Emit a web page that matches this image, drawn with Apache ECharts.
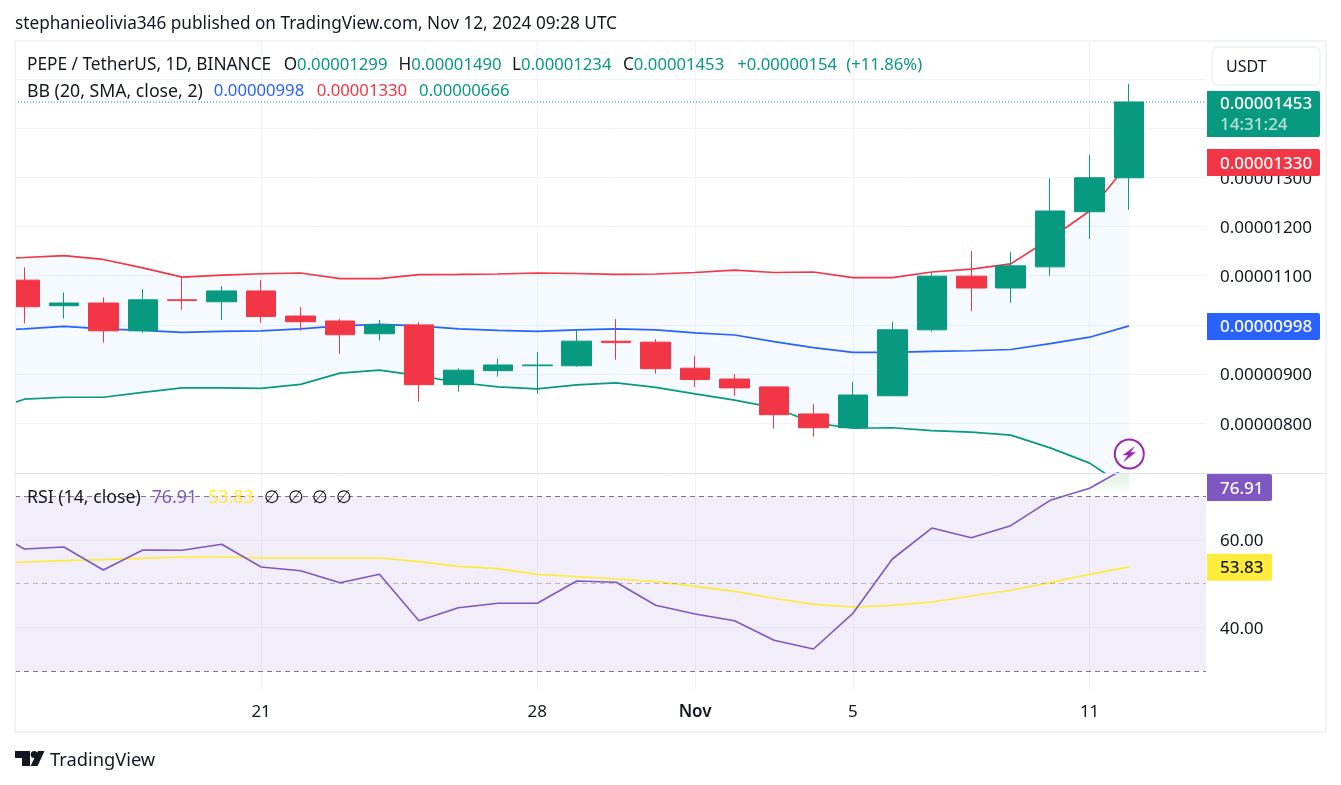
<!DOCTYPE html>
<html>
<head>
<meta charset="utf-8">
<style>html,body{margin:0;padding:0;background:#fff}#c{width:1341px;height:785px}</style>
<script src="https://cdn.jsdelivr.net/npm/echarts@6/dist/echarts.min.js"></script>
</head>
<body>
<div id="c"></div>
<script>
// Day index 0 = Oct 14 2024 ... 29 = Nov 12 2024
const days = [0,1,2,3,4,5,6,7,8,9,10,11,12,13,14,15,16,17,18,19,20,21,22,23,24,25,26,27,28,29];
const tickDays = [7,14,18,22,28];
const tickLabels = ['21','28','Nov','5','11'];

const opens  = [0.00001091,0.00001039,0.000010445,0.00000988,0.00001051,0.00001047,0.00001069,0.00001018,0.00001008,0.00000982,0.00001000,0.000008785,0.00000907,0.00000917,0.00000917,0.00000967,0.00000965,0.00000912,0.00000890,0.00000874,0.00000819,0.00000791,0.00000856,0.00000990,0.00001099,0.00001075,0.00001118,0.00001230,0.00001299];
const closes = [0.00001037,0.000010445,0.00000988,0.00001051,0.000010495,0.00001069,0.00001017,0.000010065,0.00000980,0.00001000,0.000008785,0.00000908,0.000009185,0.000009185,0.00000967,0.00000964,0.00000911,0.00000889,0.00000872,0.000008175,0.00000791,0.000008575,0.00000990,0.00001099,0.00001075,0.00001120,0.000012315,0.00001299,0.00001453];
const lows   = [0.00001003,0.00001013,0.00000964,0.00000984,0.00001031,0.00001010,0.00001004,0.00000988,0.00000941,0.00000968,0.00000844,0.00000864,0.00000895,0.00000860,0.00000915,0.00000929,0.00000901,0.00000874,0.00000856,0.00000789,0.00000773,0.00000791,0.00000855,0.00000986,0.00001028,0.00001045,0.00001100,0.00001175,0.00001234];
const highs  = [0.00001117,0.00001066,0.00001056,0.00001073,0.00001098,0.00001079,0.00001091,0.00001036,0.00001012,0.00001010,0.00001006,0.00000912,0.00000931,0.00000945,0.00000991,0.00001012,0.00000971,0.00000937,0.00000900,0.00000874,0.00000839,0.00000884,0.00001006,0.00001107,0.00001150,0.00001148,0.00001298,0.00001345,0.00001490];

const bbUpper = [0.00001134,0.00001137,0.00001141,0.00001133,0.00001116,0.00001097,0.00001101,0.00001104,0.000011055,0.00001094,0.00001094,0.00001102,0.000011025,0.000011035,0.000011055,0.000011045,0.000011025,0.000011035,0.000011065,0.000011115,0.000011065,0.000011075,0.00001096,0.00001096,0.000011075,0.000011135,0.00001124,0.00001175,0.000012315,0.00001330];
const bbBasis = [0.00000988,0.00000992,0.00000997,0.00000992,0.00000989,0.00000985,0.00000987,0.00000988,0.00000992,0.00000998,0.00001001,0.00000998,0.00000992,0.00000989,0.00000987,0.00000990,0.00000992,0.00000990,0.00000984,0.000009795,0.00000966,0.00000954,0.00000944,0.00000944,0.00000946,0.000009475,0.00000950,0.00000962,0.00000975,0.00000998];
const bbLower = [0.00000823,0.00000849,0.00000853,0.00000853,0.00000863,0.00000872,0.00000872,0.00000871,0.00000879,0.00000902,0.00000908,0.00000897,0.00000883,0.00000874,0.00000870,0.00000878,0.00000882,0.00000873,0.00000860,0.00000847,0.00000832,0.00000801,0.00000790,0.00000791,0.00000785,0.00000782,0.00000776,0.00000750,0.00000719,0.00000666];

const rsiValues = [62.95,57.92,58.38,53.11,57.69,57.62,58.99,53.80,52.95,50.21,52.13,41.51,44.49,45.49,45.49,50.59,50.30,45.03,43.04,41.51,37.03,35.03,43.20,55.63,62.72,60.50,63.25,69.06,71.81,76.91];
const rsiMa = [54.71,54.94,55.24,55.47,55.79,56.09,56.09,55.86,55.86,55.86,55.86,55.01,53.96,53.41,52.13,51.58,51.05,50.43,49.38,48.24,46.64,45.26,44.65,45.03,45.79,47.16,48.47,50.21,52.13,53.83];

const priceGridValues = [0.000008,0.000009,0.00001,0.000011,0.000012,0.000013,0.000014,0.000015];
const priceLabelValues = [0.000008,0.000009,0.000011,0.000012,0.000013];
const rsiLabelValues = [40,60];

const lastPrice = 0.00001453;
const bbUpperLast = 0.00001330, bbBasisLast = 0.00000998, rsiLast = 76.91, rsiMaLast = 53.83;

const GREEN='#089981', RED='#f23645', BLUE='#2962ff', PURPLE='#7e57c2', YELLOW='#ffeb3b', INK='#131722';
const FONT='"Noto Sans", sans-serif', FS=17;
const XMIN=0.7617, XMAX=30.95;

const chart = echarts.init(document.getElementById('c'), null, {renderer:'canvas'});
const candleData = opens.map((o,i)=>[days[i+1],o,closes[i],lows[i],highs[i]]);
const pairs = arr => arr.map((v,i)=>[days[i],v]);

function bandItem(params, api){
  const pts=[];
  days.forEach((d,i)=>pts.push(api.coord([d,bbUpper[i]])));
  for(let i=days.length-1;i>=0;i--) pts.push(api.coord([days[i],bbLower[i]]));
  return {type:'polygon',shape:{points:pts},style:{fill:'rgba(33,150,243,0.05)'}};
}
function obItem(params, api){
  const pts=[]; const lvl=70;
  for(let i=1;i<days.length;i++){
    const a=rsiValues[i-1], b=rsiValues[i];
    if(a<lvl && b>=lvl){ const x=days[i-1]+(lvl-a)/(b-a); pts.push(api.coord([x,lvl])); }
    if(b>=lvl) pts.push(api.coord([days[i],b]));
  }
  pts.push(api.coord([days[days.length-1],lvl]));
  const y100=api.coord([0,100])[1], y70=api.coord([0,70])[1];
  return {type:'polygon',shape:{points:pts},style:{fill:new echarts.graphic.LinearGradient(0,y100,0,y70,[{offset:0,color:'rgba(76,175,80,1)'},{offset:1,color:'rgba(76,175,80,0)'}],true)}};
}

const gridLine={show:true,lineStyle:{color:'#f0f3fa',width:1}};
const tickRich={n:{fontFamily:FONT,fontSize:FS,color:INK,padding:[3,0,0,0]}};
chart.setOption({
  animation:false,
  backgroundColor:'#fff',
  grid:[
    {left:15,right:135,top:42,height:431,containLabel:false},
    {left:15,right:135,top:473,height:217,containLabel:false}
  ],
  xAxis:[
    {type:'value',gridIndex:0,min:XMIN,max:XMAX,axisLine:{show:false},axisTick:{show:false,customValues:tickDays},axisLabel:{show:false},splitLine:gridLine},
    {type:'value',gridIndex:1,min:XMIN,max:XMAX,axisLine:{show:false},axisTick:{show:false,customValues:tickDays},
      axisLabel:{show:true,customValues:tickDays,margin:14,fontFamily:FONT,fontSize:FS,color:INK,
        formatter:v=>{const s=tickLabels[tickDays.indexOf(Math.round(v))];return s==='Nov'?'{b|'+s+'}':s;},
        rich:{b:{fontFamily:FONT,fontSize:FS,fontWeight:600,color:INK}}},
      splitLine:gridLine}
  ],
  yAxis:[
    {type:'value',gridIndex:0,position:'right',min:0.00000699,max:0.00001575,axisLine:{show:false},
      axisTick:{show:false,customValues:priceGridValues},
      axisLabel:{show:true,customValues:priceLabelValues,margin:14,fontFamily:FONT,fontSize:FS,color:INK,rich:tickRich,formatter:v=>'{n|'+v.toFixed(8)+'}'},
      splitLine:gridLine},
    {type:'value',gridIndex:1,position:'right',min:25.65,max:75.31,axisLine:{show:false},
      axisTick:{show:false,customValues:rsiLabelValues},
      axisLabel:{show:true,customValues:rsiLabelValues,margin:14,fontFamily:FONT,fontSize:FS,color:INK,rich:tickRich,formatter:v=>'{n|'+v.toFixed(2)+'}'},
      splitLine:gridLine}
  ],
  series:[
    {type:'custom',name:'BB band',xAxisIndex:0,yAxisIndex:0,clip:true,z:1,renderItem:bandItem,data:[[1,0.00001]],silent:true},
    {type:'line',name:'Last price',xAxisIndex:0,yAxisIndex:0,data:[[XMIN,lastPrice],[XMAX,lastPrice]],showSymbol:false,z:2,lineStyle:{color:GREEN,type:[1,2],width:1},silent:true},
    {type:'line',name:'BB upper',xAxisIndex:0,yAxisIndex:0,data:pairs(bbUpper),showSymbol:false,z:2,lineStyle:{color:RED,width:1.7},silent:true},
    {type:'line',name:'BB basis',xAxisIndex:0,yAxisIndex:0,data:pairs(bbBasis),showSymbol:false,z:2,lineStyle:{color:BLUE,width:1.7},silent:true},
    {type:'line',name:'BB lower',xAxisIndex:0,yAxisIndex:0,data:pairs(bbLower),showSymbol:false,z:2,lineStyle:{color:GREEN,width:1.7},silent:true},
    {type:'candlestick',name:'PEPEUSDT',xAxisIndex:0,yAxisIndex:0,data:candleData,barWidth:30,z:3,silent:true,
      itemStyle:{color:GREEN,color0:RED,borderColor:GREEN,borderColor0:RED,borderWidth:1}},
    {type:'custom',name:'RSI overbought',xAxisIndex:1,yAxisIndex:1,clip:true,z:1,renderItem:obItem,data:[[1,50]],silent:true},
    {type:'line',name:'RSI',xAxisIndex:1,yAxisIndex:1,data:pairs(rsiValues),showSymbol:false,z:4,lineStyle:{color:PURPLE,width:1.6},silent:true,
      markArea:{silent:true,itemStyle:{color:'rgba(126,87,194,0.1)'},data:[[{yAxis:70},{yAxis:30}]]},
      markLine:{silent:true,symbol:'none',animation:false,label:{show:false},
        data:[
          {yAxis:70,lineStyle:{color:'#787b86',type:[5,4],width:1}},
          {yAxis:50,lineStyle:{color:'rgba(120,123,134,0.5)',type:[5,4],width:1}},
          {yAxis:30,lineStyle:{color:'#787b86',type:[5,4],width:1}}
        ]}},
    {type:'line',name:'RSI MA',xAxisIndex:1,yAxisIndex:1,data:pairs(rsiMa),showSymbol:false,z:3,lineStyle:{color:YELLOW,width:1.7},silent:true}
  ]
});

const py = v => chart.convertToPixel({yAxisIndex:0},v);
const ry = v => chart.convertToPixel({yAxisIndex:1},v);
const Z=100, NUM=16.7, TXT=17.7;
// segment: [text, colour, right padding, font size]
function rich(x,y,segs){
  const richStyles={}; let txt='';
  segs.forEach((s,i)=>{const k='s'+i; richStyles[k]={fill:s[1],fontFamily:FONT,fontSize:s[3]||TXT,padding:[0,s[2]||0,0,0]}; txt+='{'+k+'|'+s[0]+'}';});
  return {type:'text',z:Z,x:x,y:y,style:{text:txt,rich:richStyles,fontFamily:FONT,fontSize:TXT,verticalAlign:'middle',textVerticalAlign:'middle'}};
}
function tag(y0,h,w,color,text,textColor){
  return [
    {type:'rect',z:Z,shape:{x:1207,y:y0,width:w,height:h,r:[0,2,2,0]},style:{fill:color}},
    {type:'text',z:Z+1,x:1220,y:y0+h/2+1.2,style:{text:text,fill:textColor,fontFamily:FONT,fontSize:FS,fontWeight:500,verticalAlign:'middle',textVerticalAlign:'middle'}}
  ];
}
const c={x:1129.3,y:454};
const boltPts=[[4.8,-7],[-6,1],[-1,1],[-5.5,7.5],[6,-1.5],[1,-1.5]].map(p=>[c.x+p[0],c.y+p[1]]);
const tagRed=py(bbUpperLast), tagBlue=py(bbBasisLast), tagYellow=ry(rsiMaLast);
const el=[
  // frame
  {type:'rect',z:Z-2,shape:{x:0,y:36,width:14,height:700},style:{fill:'#fff'}},
  {type:'rect',z:Z-1,shape:{x:15,y:41,width:1311,height:691},style:{fill:'transparent',stroke:'#f0f3fa',lineWidth:2}},
  {type:'line',z:Z-1,shape:{x1:15,y1:473.5,x2:1326,y2:473.5},style:{stroke:'#e0e3eb',lineWidth:1}},
  // header
  {type:'text',z:Z,x:15,y:23.7,style:{text:'stephanieolivia346 published on TradingView.com, Nov 12, 2024 09:28 UTC',fill:INK,fontFamily:FONT,fontSize:17.2,verticalAlign:'middle',textVerticalAlign:'middle'}},
  rich(27,65.5,[['PEPE / TetherUS, 1D, BINANCE',INK,12.5,17.25],['O',INK,0,17.2],['0.00001299',GREEN,11,NUM],['H',INK,0,17.2],['0.00001490',GREEN,10.5,NUM],['L',INK,0,17.2],['0.00001234',GREEN,11.5,NUM],['C',INK,0,17.2],['0.00001453',GREEN,13,NUM],['+0.00000154',GREEN,9,NUM],['(+11.86%)',GREEN,0,NUM]]),
  rich(27,91.5,[['BB (20, SMA, close, 2)',INK,11],['0.00000998',BLUE,12.5,NUM],['0.00001330',RED,12,NUM],['0.00000666',GREEN,0,NUM]]),
  rich(27,498,[['RSI (14, close)',INK,11],['76.91',PURPLE,11,17.8],['53.83',YELLOW,10,17.8],['∅',INK,8],['∅',INK,8],['∅',INK,8],['∅',INK]]),
  // USDT button
  {type:'rect',z:Z,shape:{x:1212,y:47,width:108,height:38,r:6},style:{fill:'#fff',stroke:'#f0f3fa',lineWidth:2}},
  {type:'text',z:Z+1,x:1226,y:67.5,style:{text:'USDT',fill:INK,fontFamily:FONT,fontSize:16,verticalAlign:'middle',textVerticalAlign:'middle'}},
  // last price tag
  {type:'rect',z:Z,shape:{x:1207,y:91,width:113,height:46,r:[0,2,2,0]},style:{fill:GREEN}},
  {type:'text',z:Z+1,x:1220,y:104,style:{text:'0.00001453',fill:'#fff',fontFamily:FONT,fontSize:FS,fontWeight:500,verticalAlign:'middle',textVerticalAlign:'middle'}},
  {type:'text',z:Z+1,x:1220,y:125,style:{text:'14:31:24',fill:'rgba(255,255,255,0.7)',fontFamily:FONT,fontSize:FS,fontWeight:500,verticalAlign:'middle',textVerticalAlign:'middle'}},
  ...tag(tagRed-13.5,27,113,RED,bbUpperLast.toFixed(8),'#fff'),
  ...tag(tagBlue-13,27,113,BLUE,bbBasisLast.toFixed(8),'#fff'),
  ...tag(474,27,65,PURPLE,rsiLast.toFixed(2),'#fff'),
  ...tag(tagYellow-13,27,65,YELLOW,rsiMaLast.toFixed(2),INK),
  // bolt icon
  {type:'circle',z:Z,shape:{cx:c.x,cy:c.y,r:14.5},style:{fill:'rgba(255,255,255,0.6)',stroke:'#9c27b0',lineWidth:2}},
  {type:'polygon',z:Z+1,shape:{points:boltPts},style:{fill:'#9c27b0',stroke:'#9c27b0',lineWidth:0.5}},
  // footer logo
  {type:'polygon',z:Z,shape:{points:[[15,751],[30,751],[30,766],[22,766],[22,758],[15,758]]},style:{fill:INK}},
  {type:'circle',z:Z,shape:{cx:34.2,cy:754.5,r:3.5},style:{fill:INK}},
  {type:'polygon',z:Z,shape:{points:[[38,751],[44.5,751],[37.5,766],[30.5,766]]},style:{fill:INK}},
  {type:'text',z:Z,x:50,y:760.5,style:{text:'TradingView',fill:INK,fontFamily:FONT,fontSize:18.3,verticalAlign:'middle',textVerticalAlign:'middle'}}
];
chart.setOption({graphic:{elements:el}});
</script>
</body>
</html>
